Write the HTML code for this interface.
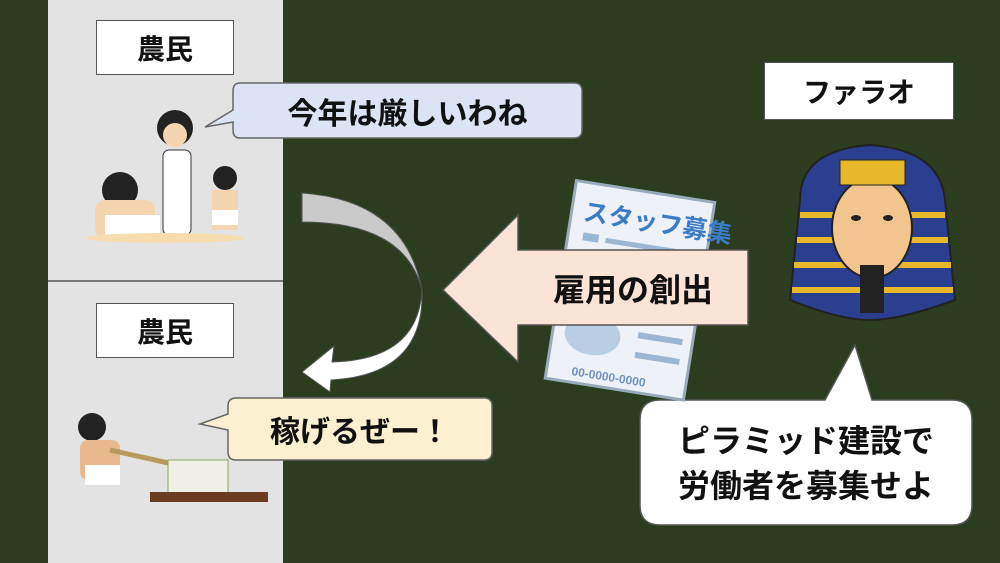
<!DOCTYPE html>
<html><head><meta charset="utf-8"><style>
body{margin:0}
#c{position:relative;width:1000px;height:563px;background:#2b3d1e;overflow:hidden;font-family:"Liberation Sans","Noto Sans CJK JP",sans-serif;font-weight:bold;color:#111}
.a{position:absolute;box-sizing:border-box;display:flex;align-items:center;justify-content:center}
</style></head><body><div id="c">
<div class="a" style="left:48px;top:0;width:235px;height:563px;background:#e3e3e3"></div>
<div class="a" style="left:48px;top:280px;width:235px;height:2px;background:#777"></div>
<div class="a" style="left:96px;top:20px;width:138px;height:55px;background:#fff;border:1.5px solid #555;font-size:28px">農民</div>
<div class="a" style="left:96px;top:303px;width:138px;height:55px;background:#fff;border:1.5px solid #555;font-size:28px">農民</div>
<div class="a" style="left:764px;top:62px;width:190px;height:58px;background:#fff;border:1.5px solid #555;font-size:28px">ファラオ</div>
<svg width="1000" height="563" style="position:absolute;left:0;top:0">
 <path d="M240 83 H574 Q582 83 582 91 V130 Q582 138 574 138 H240 Q233 138 233 130 V122 L205 127 L233 110 V91 Q233 83 240 83Z" fill="#dce3f2" stroke="#666" stroke-width="1.5"/>
 <path d="M236 398 H484 Q492 398 492 406 V452 Q492 460 484 460 H236 Q228 460 228 452 V430 L200 424 L228 414 V406 Q228 398 236 398Z" fill="#fbf0cf" stroke="#666" stroke-width="1.5"/>
 <path d="M660 400 H825 L855 345 L872 400 H952 Q972 400 972 420 V505 Q972 525 952 525 H660 Q640 525 640 505 V420 Q640 400 660 400Z" fill="#fff" stroke="#555" stroke-width="1.5"/>
 <path d="M302 193 Q405 200 422 290 Q405 222 302 222Z" fill="#c9c9c9" stroke="#555"/>
 <path d="M422 290 Q418 360 332 362 L334 346 L302 372 L330 392 L331 380 Q425 375 422 290Z" fill="#fff" stroke="#555"/>
 <g transform="rotate(9 628 290)">
  <rect x="560" y="190" width="140" height="200" fill="#eef2f8" stroke="#9ab" stroke-width="3"/>
  <text x="572" y="228" font-size="25" fill="#3a7cc8" font-family="Liberation Sans,Noto Sans CJK JP,sans-serif" font-weight="bold">スタッフ募集</text>
  <rect x="575" y="240" width="16" height="8" fill="#9bb6d4"/><rect x="598" y="242" width="80" height="5" fill="#9bb6d4"/>
  <ellipse cx="600" cy="340" rx="28" ry="20" fill="#b9cde3"/>
  <rect x="645" y="330" width="45" height="6" fill="#9bb6d4"/><rect x="645" y="350" width="45" height="6" fill="#9bb6d4"/>
  <text x="585" y="383" font-size="12" fill="#6d93c4" font-family="Liberation Sans,sans-serif">00-0000-0000</text>
 </g>
 <path d="M443 290 L518 215 V250 H748 V325 H518 V362Z" fill="#fbe3d6" stroke="#555" stroke-width="1.5"/>
 <path d="M800 200 Q800 150 870 145 Q940 150 945 200 L955 300 Q900 320 870 320 Q840 320 790 300Z" fill="#2a3f8f" stroke="#222" stroke-width="2"/>
 <g stroke="#e7b82a" stroke-width="6"><line x1="800" y1="215" x2="945" y2="215"/><line x1="797" y1="240" x2="948" y2="240"/><line x1="794" y1="265" x2="951" y2="265"/><line x1="792" y1="290" x2="953" y2="290"/></g>
 <ellipse cx="872" cy="228" rx="40" ry="50" fill="#f3c58e" stroke="#222" stroke-width="2"/>
 <ellipse cx="856" cy="218" rx="5" ry="3" fill="#222"/><ellipse cx="888" cy="218" rx="5" ry="3" fill="#222"/>
 <rect x="860" y="265" width="24" height="48" fill="#222"/>
 <rect x="840" y="160" width="65" height="25" fill="#e7b82a" stroke="#222"/>
 <g>
  <circle cx="120" cy="190" r="18" fill="#222"/><rect x="95" y="200" width="60" height="38" rx="10" fill="#f5d5b0"/><rect x="105" y="215" width="55" height="20" fill="#fff"/>
  <circle cx="175" cy="128" r="18" fill="#222"/><circle cx="175" cy="135" r="12" fill="#f5d5b0"/><rect x="163" y="150" width="28" height="85" rx="6" fill="#fff" stroke="#333"/>
  <circle cx="225" cy="178" r="12" fill="#222"/><rect x="212" y="190" width="26" height="40" fill="#f5d5b0"/><rect x="212" y="210" width="26" height="15" fill="#fff"/>
  <ellipse cx="165" cy="238" rx="80" ry="5" fill="#f6dcae"/>
 </g>
 <g>
  <circle cx="92" cy="427" r="14" fill="#222"/><rect x="80" y="440" width="40" height="40" rx="8" fill="#e8b98c"/><rect x="85" y="465" width="35" height="20" fill="#fff"/>
  <path d="M110 450 L200 470" stroke="#b89a5a" stroke-width="5"/>
  <rect x="168" y="460" width="60" height="35" fill="#f0efe6" stroke="#8a6"/>
  <rect x="150" y="492" width="118" height="10" fill="#6b3c1f"/>
 </g>
</svg>
<div class="a" style="left:233px;top:83px;width:349px;height:55px;font-size:30px">今年は厳しいわね</div>
<div class="a" style="left:228px;top:398px;width:264px;height:62px;font-size:30px">稼げるぜー！</div>
<div class="a" style="left:518px;top:250px;width:230px;height:75px;font-size:32px">雇用の創出</div>
<div class="a" style="left:640px;top:402px;width:332px;height:123px;font-size:32px;line-height:45px;text-align:center">ピラミッド建設で<br>労働者を募集せよ</div>
</div></body></html>
